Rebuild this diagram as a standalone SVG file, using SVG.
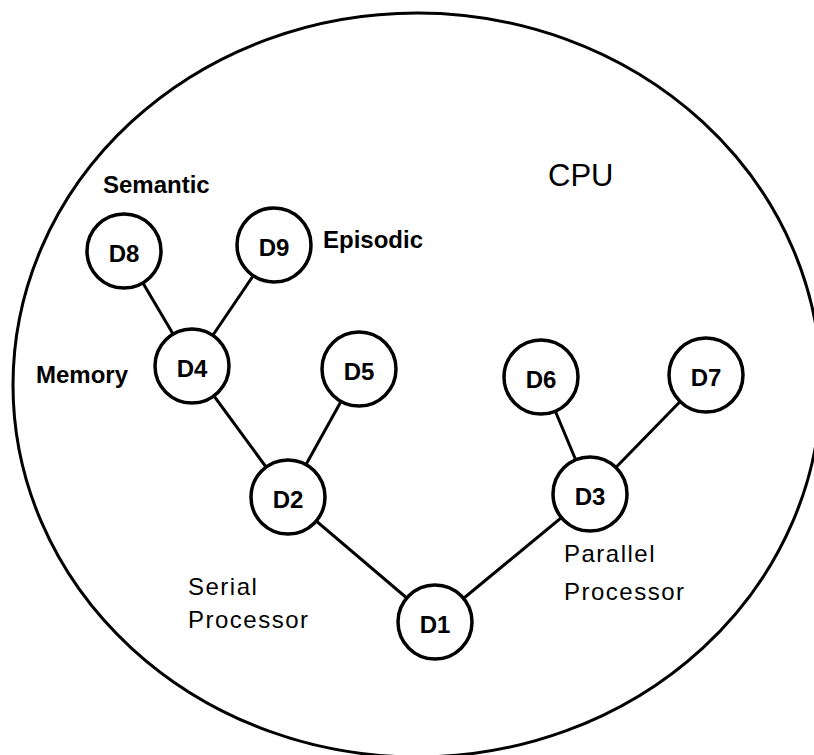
<svg xmlns="http://www.w3.org/2000/svg" width="814" height="755" viewBox="0 0 814 755">
<style>
.node{fill:#fff;stroke:#000;stroke-width:3.5}
.edge{stroke:#000;stroke-width:3;fill:none}
.nl{font-family:"Liberation Sans",Arial,sans-serif;font-weight:bold;font-size:24px;text-anchor:middle}
.lb{font-family:"Liberation Sans",Arial,sans-serif;font-weight:bold;font-size:24px}
.lt{font-family:"Liberation Sans",Arial,sans-serif;font-size:24px;letter-spacing:1.5px}
</style>
<rect width="814" height="755" fill="#fff"/>
<g id="cpu">
<ellipse cx="417" cy="385" rx="404" ry="372" fill="none" stroke="#000" stroke-width="3"/>
<text x="548" y="186" font-family="Liberation Sans, Arial, sans-serif" font-size="31">CPU</text>
</g>
<g id="connectors">
<line class="edge" x1="124" y1="251" x2="192" y2="366"/>
<line class="edge" x1="274" y1="245" x2="192" y2="366"/>
<line class="edge" x1="192" y1="366" x2="288" y2="497"/>
<line class="edge" x1="359" y1="369" x2="288" y2="497"/>
<line class="edge" x1="541" y1="377" x2="590" y2="494"/>
<line class="edge" x1="706" y1="375" x2="590" y2="494"/>
<line class="edge" x1="288" y1="497" x2="435" y2="622"/>
<line class="edge" x1="590" y1="494" x2="435" y2="622"/>
</g>
<g id="D8"><circle class="node" cx="124" cy="251" r="37"/><text class="nl" x="124" y="262">D8</text></g>
<g id="D9"><circle class="node" cx="274" cy="245" r="37"/><text class="nl" x="274" y="256">D9</text></g>
<g id="D4"><circle class="node" cx="192" cy="366" r="37"/><text class="nl" x="192" y="377">D4</text></g>
<g id="D5"><circle class="node" cx="359" cy="369" r="37"/><text class="nl" x="359" y="380">D5</text></g>
<g id="D6"><circle class="node" cx="541" cy="377" r="37"/><text class="nl" x="541" y="388">D6</text></g>
<g id="D7"><circle class="node" cx="706" cy="375" r="37"/><text class="nl" x="706" y="386">D7</text></g>
<g id="D2"><circle class="node" cx="288" cy="497" r="37"/><text class="nl" x="288" y="508">D2</text></g>
<g id="D3"><circle class="node" cx="590" cy="494" r="37"/><text class="nl" x="590" y="505">D3</text></g>
<g id="D1"><circle class="node" cx="435" cy="622" r="37"/><text class="nl" x="435" y="633">D1</text></g>
<g id="labels">
<text class="lb" x="103" y="193">Semantic</text>
<text class="lb" x="323" y="248">Episodic</text>
<text class="lb" x="36" y="383">Memory</text>
<text class="lt" x="188" y="595">Serial</text>
<text class="lt" x="188" y="628">Processor</text>
<text class="lt" x="564" y="562">Parallel</text>
<text class="lt" x="564" y="600">Processor</text>
</g>
</svg>
